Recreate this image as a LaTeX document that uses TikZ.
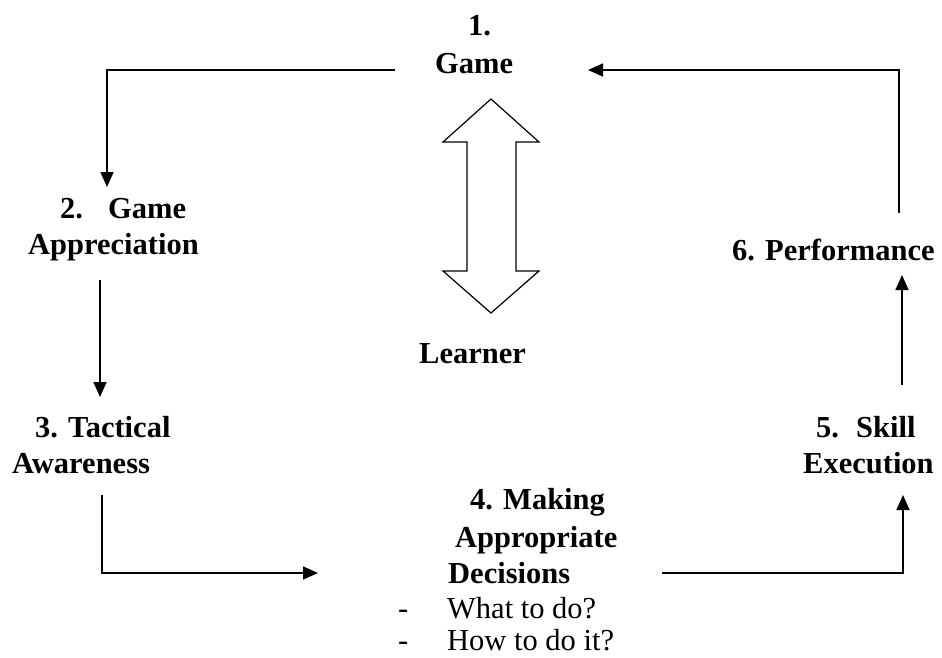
\documentclass[tikz,border=0pt]{standalone}
\usepackage{fontspec}
\setmainfont{Liberation Serif}
\usetikzlibrary{arrows.meta}
\begin{document}
\begin{tikzpicture}[x=1pt,y=-1pt,
  lbl/.style={anchor=base west, inner sep=0pt, font=\fontsize{30.5}{35}\selectfont\bfseries},
  plain/.style={anchor=base west, inner sep=0pt, font=\fontsize{30.5}{35}\selectfont},
  conn/.style={line width=1.6pt, -{Triangle[length=15pt,width=13pt]}},
  dbl/.style={line width=1.2pt, line join=miter}]
\useasboundingbox (0,0) rectangle (942,657);
% texts
\node[lbl] (t1a) at (468,35) {1.};
\node[lbl] (t1b) at (435,73) {Game};
\node[lbl] (t2a) at (60,218) {2.};
\node[lbl] (t2b) at (108,218) {Game};
\node[lbl] (t2c) at (28,254) {Appreciation};
\node[lbl] (t3a) at (35,437) {3. Tactical};
\node[lbl] (t3b) at (12,473) {Awareness};
\node[lbl] (t4a) at (470,509) {4. Making};
\node[lbl] (t4b) at (455,547) {Appropriate};
\node[lbl] (t4c) at (448,583) {Decisions};
\node[plain] (d1) at (398,618) {-};
\node[plain] (q1) at (447,618) {What to do?};
\node[plain] (d2) at (398,650) {-};
\node[plain] (q2) at (447,650) {How to do it?};
\node[lbl] (t5a) at (816,437) {5.};
\node[lbl] (t5b) at (856,437) {Skill};
\node[lbl] (t5c) at (803,473) {Execution};
\node[lbl] (t6) at (732,260) {6. Performance};
\node[lbl] (tl) at (419,363) {Learner};
% double arrow
\draw[dbl] (491,99) -- (539,142) -- (516,142) -- (516,271) -- (539,271) -- (491,313)
  -- (443,271) -- (467,271) -- (467,142) -- (443,142) -- cycle;
% connector points
\coordinate (c1a) at (395,70);
\coordinate (c1b) at (107,70);
\coordinate (c1c) at (107,187);
\coordinate (c2a) at (100,280);
\coordinate (c2b) at (100,397);
\coordinate (c3a) at (102,495);
\coordinate (c3b) at (102,573);
\coordinate (c3c) at (318,573);
\coordinate (c4a) at (662,573);
\coordinate (c4b) at (903,573);
\coordinate (c4c) at (903,495);
\coordinate (c5a) at (902,385);
\coordinate (c5b) at (902,275);
\coordinate (c6a) at (899,213);
\coordinate (c6b) at (899,70);
\coordinate (c6c) at (588,70);
\draw[conn] (c1a) -- (c1b) -- (c1c);
\draw[conn] (c2a) -- (c2b);
\draw[conn] (c3a) -- (c3b) -- (c3c);
\draw[conn] (c4a) -- (c4b) -- (c4c);
\draw[conn] (c5a) -- (c5b);
\draw[conn] (c6a) -- (c6b) -- (c6c);
\end{tikzpicture}
\end{document}
